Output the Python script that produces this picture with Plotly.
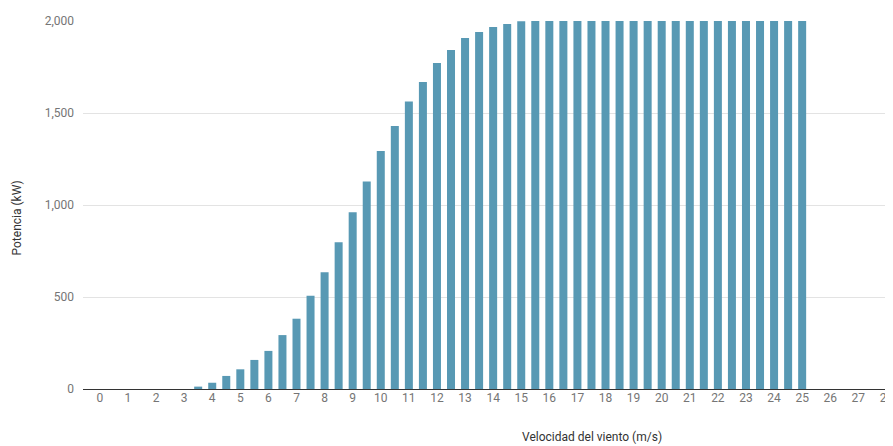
import plotly.graph_objects as go

wind_speed = [3.5, 4, 4.5, 5, 5.5, 6, 6.5, 7, 7.5, 8, 8.5, 9, 9.5, 10, 10.5, 11, 11.5, 12,
              12.5, 13, 13.5, 14, 14.5, 15, 15.5, 16, 16.5, 17, 17.5, 18, 18.5, 19, 19.5,
              20, 20.5, 21, 21.5, 22, 22.5, 23, 23.5, 24, 24.5, 25]
power_kw = [13, 34, 71, 107, 158, 207, 293, 382, 507, 634, 797, 960, 1128, 1294, 1429, 1563,
            1668, 1772, 1842, 1908, 1940, 1967, 1984, 1998, 2000, 2000, 2000, 2000, 2000, 2000,
            2000, 2000, 2000, 2000, 2000, 2000, 2000, 2000, 2000, 2000, 2000, 2000, 2000, 2000]
x_ticks = list(range(0, 29))
y_ticks = [0, 500, 1000, 1500, 2000]
y_ticklabels = ["0", "500", "1,000", "1,500", "2,000"]

# page has an 8px body margin; figure is placed at (8, 8)
OFF = 8
W, H = 893 - OFF, 446 - OFF
L, T, R = 83 - OFF, 21 - OFF, 0
B = H - (389 - OFF)

fig = go.Figure(go.Bar(
    x=wind_speed, y=power_kw, width=0.285,
    marker=dict(color="#5899b4", line=dict(width=0)),
))

fig.update_layout(
    width=W, height=H,
    margin=dict(l=L, r=R, t=T, b=B),
    plot_bgcolor="white", paper_bgcolor="white",
    font=dict(family="Roboto", size=12, color="#757575"),
    showlegend=False,
    xaxis=dict(range=[-0.6, 28.02], tickmode="array", tickvals=x_ticks,
               ticktext=[str(v) for v in x_ticks], showgrid=False, zeroline=False,
               showline=False, ticks="", ticklabeloverflow="allow",
               tickfont=dict(size=12, color="#757575")),
    yaxis=dict(range=[0, 2000], tickmode="array", tickvals=y_ticks, ticktext=y_ticklabels,
               showgrid=True, gridcolor="#e3e3e3", gridwidth=1, zeroline=True,
               zerolinecolor="#333333", zerolinewidth=1, ticks="", ticklabelstandoff=8,
               tickfont=dict(size=12, color="#757575")),
)

pw = W - L - R
ph = H - T - B


def px_to_paper(px, py):
    fx, fy = px - OFF, py - OFF
    return (fx - L) / pw, (H - B - fy) / ph


ax, ay = px_to_paper(596, 437)
bx, by = px_to_paper(17, 218)
fig.add_annotation(text="Velocidad del viento (m/s)", x=ax, y=ay, xref="paper", yref="paper",
                   xanchor="center", yanchor="middle", showarrow=False,
                   font=dict(size=12, color="#333333"))
fig.add_annotation(text="Potencia (kW)", x=bx, y=by, xref="paper", yref="paper",
                   xanchor="center", yanchor="middle", textangle=-90, showarrow=False,
                   font=dict(size=12, color="#333333"))

fig.write_html("out.html")
